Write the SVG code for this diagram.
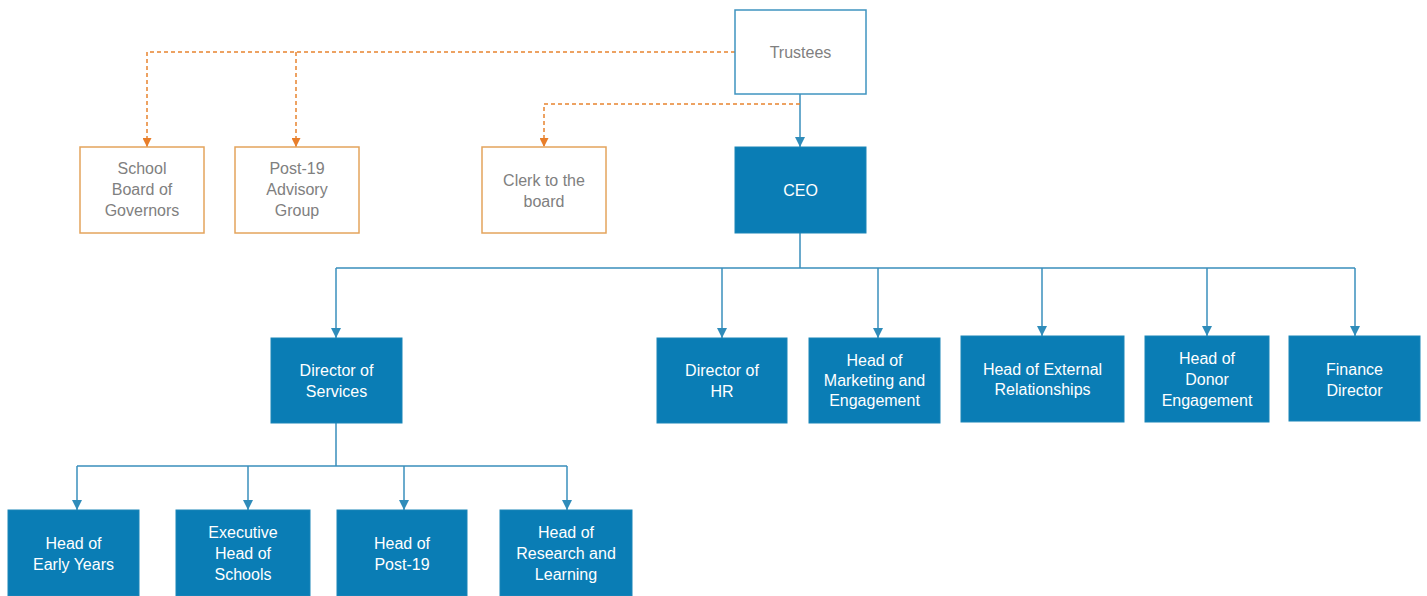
<svg xmlns="http://www.w3.org/2000/svg" width="1427" height="596" viewBox="0 0 1427 596">
<defs>
<marker id="ab" viewBox="0 0 10 10" refX="10" refY="5" markerWidth="5" markerHeight="5" markerUnits="userSpaceOnUse" orient="auto"><path d="M0,0L10,5L0,10z" fill="#2f8cba"/></marker>
<marker id="ao" viewBox="0 0 10 10" refX="10" refY="5" markerWidth="5" markerHeight="5" markerUnits="userSpaceOnUse" orient="auto"><path d="M0,0L10,5L0,10z" fill="#e87e2a"/></marker>
<marker id="ab2" viewBox="0 0 10 10" refX="10" refY="5" markerWidth="10" markerHeight="10" markerUnits="userSpaceOnUse" orient="auto"><path d="M0,0L10,5L0,10z" fill="#2f8cba"/></marker>
<marker id="ao2" viewBox="0 0 10 10" refX="10" refY="5" markerWidth="9" markerHeight="9" markerUnits="userSpaceOnUse" orient="auto"><path d="M0,0L10,5L0,10z" fill="#e87e2a"/></marker>
</defs>
<style>
.blue{fill:#0a7db5;stroke:#1a86b8;stroke-width:1}
.white{fill:#fff;stroke:#3f94c0;stroke-width:1.5}
.orange{fill:#fff;stroke:#e4a45c;stroke-width:1.5}
text{font-family:"Liberation Sans",Arial,sans-serif;font-size:16px;text-anchor:middle}
.wt{fill:#ffffff}
.gt{fill:#808080}
.ln{fill:none;stroke:#3a8fbc;stroke-width:1.5}
.dl{fill:none;stroke:#e8842f;stroke-width:1.5;stroke-dasharray:4 3}
</style>
<g id="connectors">
<path class="ln" d="M800,94V147" marker-end="url(#ab2)"/>
<path class="ln" d="M800,233V268M336,268H1355"/>
<path class="ln" d="M336,268V338" marker-end="url(#ab2)"/>
<path class="ln" d="M722,268V338" marker-end="url(#ab2)"/>
<path class="ln" d="M878,268V338" marker-end="url(#ab2)"/>
<path class="ln" d="M1042,268V336" marker-end="url(#ab2)"/>
<path class="ln" d="M1207,268V336" marker-end="url(#ab2)"/>
<path class="ln" d="M1355,268V336" marker-end="url(#ab2)"/>
<path class="ln" d="M336,423V466M77,466H567"/>
<path class="ln" d="M77,466V510" marker-end="url(#ab2)"/>
<path class="ln" d="M248,466V510" marker-end="url(#ab2)"/>
<path class="ln" d="M404,466V510" marker-end="url(#ab2)"/>
<path class="ln" d="M567,466V510" marker-end="url(#ab2)"/>
<path class="dl" d="M735,52H147V147" marker-end="url(#ao2)"/>
<path class="dl" d="M296,52V147" marker-end="url(#ao2)"/>
<path class="dl" d="M800,104H544V147" marker-end="url(#ao2)"/>
</g>
<g id="trustees"><rect class="white" x="735" y="10" width="131" height="84"/><text class="gt" x="800.5" y="58">Trustees</text></g>
<g id="school-board"><rect class="orange" x="80" y="147" width="124" height="86"/><text class="gt" x="142" y="174">School</text><text class="gt" x="142" y="195">Board of</text><text class="gt" x="142" y="216">Governors</text></g>
<g id="post19-advisory"><rect class="orange" x="235" y="147" width="124" height="86"/><text class="gt" x="297" y="174">Post-19</text><text class="gt" x="297" y="195">Advisory</text><text class="gt" x="297" y="216">Group</text></g>
<g id="clerk"><rect class="orange" x="482" y="147" width="124" height="86"/><text class="gt" x="544" y="186">Clerk to the</text><text class="gt" x="544" y="207">board</text></g>
<g id="ceo"><rect class="blue" x="735" y="147" width="131" height="86"/><text class="wt" x="800.5" y="196">CEO</text></g>
<g id="director-services"><rect class="blue" x="271" y="338" width="131" height="85"/><text class="wt" x="336.5" y="376">Director of</text><text class="wt" x="336.5" y="397">Services</text></g>
<g id="director-hr"><rect class="blue" x="657" y="338" width="130" height="85"/><text class="wt" x="722" y="376">Director of</text><text class="wt" x="722" y="397">HR</text></g>
<g id="head-marketing"><rect class="blue" x="809" y="338" width="131" height="85"/><text class="wt" x="874.5" y="366">Head of</text><text class="wt" x="874.5" y="386">Marketing and</text><text class="wt" x="874.5" y="406">Engagement</text></g>
<g id="head-external"><rect class="blue" x="961" y="336" width="163" height="86"/><text class="wt" x="1042.5" y="375">Head of External</text><text class="wt" x="1042.5" y="395">Relationships</text></g>
<g id="head-donor"><rect class="blue" x="1145" y="336" width="124" height="86"/><text class="wt" x="1207" y="364">Head of</text><text class="wt" x="1207" y="385">Donor</text><text class="wt" x="1207" y="406">Engagement</text></g>
<g id="finance"><rect class="blue" x="1289" y="336" width="131" height="85"/><text class="wt" x="1354.5" y="375">Finance</text><text class="wt" x="1354.5" y="396">Director</text></g>
<g id="head-early-years"><rect class="blue" x="8" y="510" width="131" height="86"/><text class="wt" x="73.5" y="549">Head of</text><text class="wt" x="73.5" y="570">Early Years</text></g>
<g id="exec-head-schools"><rect class="blue" x="176" y="510" width="134" height="86"/><text class="wt" x="243" y="538">Executive</text><text class="wt" x="243" y="559">Head of</text><text class="wt" x="243" y="580">Schools</text></g>
<g id="head-post19"><rect class="blue" x="337" y="510" width="130" height="86"/><text class="wt" x="402" y="549">Head of</text><text class="wt" x="402" y="570">Post-19</text></g>
<g id="head-research"><rect class="blue" x="500" y="510" width="132" height="86"/><text class="wt" x="566" y="538">Head of</text><text class="wt" x="566" y="559">Research and</text><text class="wt" x="566" y="580">Learning</text></g>
</svg>
